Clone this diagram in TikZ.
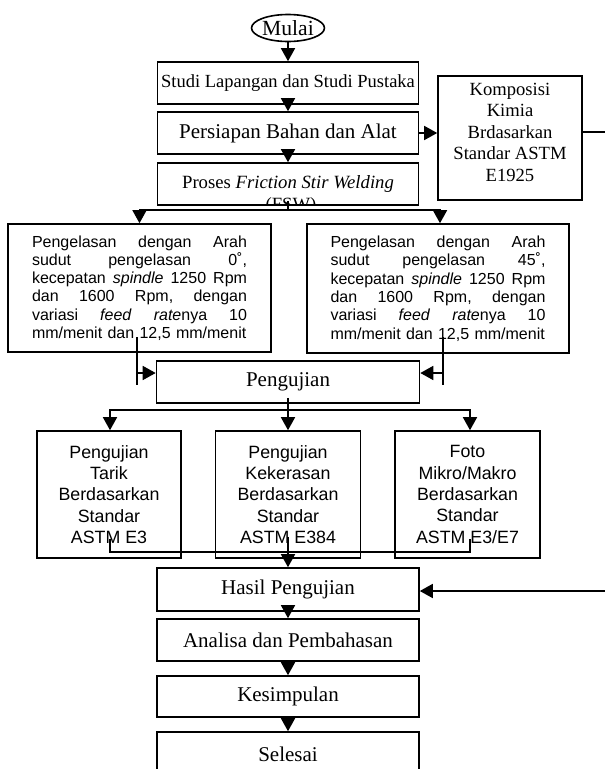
\documentclass[tikz,border=0pt]{standalone}
\usepackage{fontspec}
\setmainfont{Liberation Serif}
\newfontfamily\arialf{Liberation Sans}
\usetikzlibrary{arrows.meta,shapes.geometric}
\newcommand{\jline}[1]{\makebox[215pt]{#1}\\}
\newcommand{\hf}{\hfill}
\begin{document}
\begin{tikzpicture}[x=1pt,y=-1pt,
  box/.style={draw,line width=1.6pt,rectangle,inner sep=0pt,align=center},
  arr/.style={line width=1.6pt,-{Triangle[width=14pt,length=13pt]}},
  ln/.style={line width=1.6pt},
  tnr/.style={font=\fontsize{21}{24}\selectfont},
  upper/.style={font=\arialf\fontsize{16}{18.3}\selectfont,text width=215pt,align=left},
  lower/.style={font=\arialf\fontsize{17.8}{21.3}\selectfont,align=center}]
\useasboundingbox (0,0) rectangle (605,769);
% ---- top chain
\node[draw,ellipse,line width=1.6pt,minimum width=72pt,minimum height=27pt,inner sep=0pt,font=\fontsize{21.6}{24}\selectfont] (mulai) at (288,28) {Mulai};
\node[box,minimum width=261pt,minimum height=42pt,font=\fontsize{18.5}{21}\selectfont] (studi) at (288,83) {Studi Lapangan dan Studi Pustaka};
\node[box,minimum width=261pt,minimum height=42pt,tnr] (persiapan) at (288,133) {Persiapan Bahan dan Alat};
\begin{scope}
  \clip (158,163) rectangle (419,205);
  \node[anchor=base,inner sep=0pt,font=\fontsize{18.7}{21}\selectfont] (fsw) at (291,210.5) {(FSW)};
\end{scope}
\node[box,minimum width=261pt,minimum height=42pt,font=\fontsize{18.7}{21}\selectfont] (proses) at (288,184) {Proses \textit{Friction Stir Welding}};
\node[box,minimum width=144pt,minimum height=124pt] (komp) at (510,138) {};
\node[inner sep=0pt,align=center,font=\fontsize{18.6}{21.5}\selectfont] (kompt) at (510,132) {Komposisi\\Kimia\\Brdasarkan\\Standar ASTM\\E1925};
% ---- welding boxes
\node[box,minimum width=263pt,minimum height=128pt,upper] (left) at (139.5,288) {\jline{Pengelasan\hf dengan\hf Arah}\jline{sudut\hf pengelasan\hf 0˚,}\jline{kecepatan\hf \textit{spindle}\hf 1250\hf Rpm}\jline{dan\hf 1600\hf Rpm,\hf dengan}\jline{variasi\hf \textit{feed}\hf \textit{rate}nya\hf 10}mm/menit dan 12,5 mm/menit};
\node[box,minimum width=262pt,minimum height=129pt,upper] (right) at (438,288.5) {\jline{Pengelasan\hf dengan\hf Arah}\jline{sudut\hf pengelasan\hf 45˚,}\jline{kecepatan\hf \textit{spindle}\hf 1250\hf Rpm}\jline{dan\hf 1600\hf Rpm,\hf dengan}\jline{variasi\hf \textit{feed}\hf \textit{rate}nya\hf 10}mm/menit dan 12,5 mm/menit};
% ---- pengujian
\node[box,minimum width=263pt,minimum height=42pt,tnr] (peng) at (288,382) {Pengujian};
\node[box,minimum width=144pt,minimum height=127pt,lower] (t1) at (109,494.5) {Pengujian\\Tarik\\Berdasarkan\\Standar\\ASTM E3};
\node[box,minimum width=145pt,minimum height=127pt,lower] (t2) at (288,494.5) {Pengujian\\Kekerasan\\Berdasarkan\\Standar\\ASTM E384};
\node[box,minimum width=145pt,minimum height=127pt,lower] (t3) at (467.5,494.5) {Foto\\Mikro/Makro\\Berdasarkan\\Standar\\ASTM E3/E7};
% ---- bottom chain
\node[box,minimum width=262pt,minimum height=43pt,tnr] (hasil) at (288,589.5) {Hasil Pengujian};
\node[box,minimum width=262pt,minimum height=42pt,tnr] (analisa) at (288,640) {Analisa dan Pembahasan};
\node[box,minimum width=262pt,minimum height=41pt,tnr] (kes) at (288,696.5) {Kesimpulan};
\node[box,minimum width=262pt,minimum height=44pt,tnr] (sel) at (288,754) {Selesai};
% ---- connectors
\draw[arr] (mulai.south) -- (studi.north);
\draw[arr] ([yshift=7pt]studi.south) -- (persiapan.north);
\draw[arr] ([yshift=4pt]persiapan.south) -- (proses.north);
\draw[arr] (persiapan.east) -- (persiapan.east -| komp.west);
\coordinate (kr) at (605,132);
\draw[ln] (kr -| komp.east) -- (kr);
\coordinate (pb) at (288,210);
\draw[ln] ([yshift=5pt]proses.south) -- (pb);
\draw[arr] (pb) -| (left.north);
\draw[arr] (pb) -| ([xshift=2pt]right.north);
\coordinate (la) at (137,337);
\coordinate (lb) at (137,385);
\coordinate (lm) at (137,373);
\draw[ln] (la) -- (lb);
\draw[arr] (lm) -- (lm -| peng.west);
\coordinate (ra) at (443,337);
\coordinate (rb) at (443,385);
\coordinate (rm) at (443,373);
\draw[ln] (ra) -- (rb);
\draw[arr] (rm) -- (rm -| peng.east);
\coordinate (pc) at (288,410);
\draw[arr] ([yshift=6pt]peng.south) -- (t2.north);
\draw[arr] (pc) -| ([xshift=1pt]t1.north);
\draw[arr] (pc) -| ([xshift=2.5pt]t3.north);
\coordinate (hb) at (288,552);
\draw[ln] ([xshift=1pt,yshift=20pt]t1.south) |- (hb) -| ([xshift=2.5pt,yshift=20pt]t3.south);
\draw[arr] ([yshift=22pt]t2.south) -- (hasil.north);
\coordinate (hr) at (605,591);
\draw[arr] (hr) -- (hr -| hasil.east);
\draw[arr] ([yshift=6pt]hasil.south) -- (analisa.north);
\draw[arr] (analisa.south) -- (kes.north);
\draw[arr] (kes.south) -- (sel.north);
\end{tikzpicture}
\end{document}
